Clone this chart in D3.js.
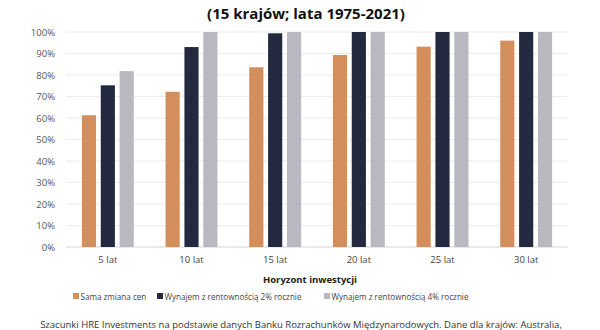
<!DOCTYPE html>
<html>
<head>
<meta charset="utf-8">
<script src="https://cdn.jsdelivr.net/npm/d3@7"></script>
<style>
  body { margin: 0; background: #fff; }
  text { font-family: "Open Sans", "DejaVu Sans", sans-serif; }
</style>
</head>
<body>
<div id="viz"></div>
<script>
var categories = ['5 lat', '10 lat', '15 lat', '20 lat', '25 lat', '30 lat'];
var seriesNames = ['Sama zmiana cen', 'Wynajem z rentownością 2% rocznie', 'Wynajem z rentownością 4% rocznie'];
var priceOnly = [61.3, 72.2, 83.6, 89.3, 93.2, 96.0];
var rent2 = [75.2, 93.0, 99.4, 100, 100, 100];
var rent4 = [81.8, 100, 100, 100, 100, 100];
var yTicks = [0, 10, 20, 30, 40, 50, 60, 70, 80, 90, 100];
var colors = ['#d38e5c', '#232a3f', '#b9b7bf'];

var width = 600, height = 330;
var margin = {top: 32, right: 32, bottom: 83, left: 66};

var svg = d3.select('#viz').append('svg')
    .attr('width', width)
    .attr('height', height);

var x0 = d3.scaleBand()
    .domain(categories)
    .range([margin.left, width - margin.right])
    .paddingInner(0.38)
    .paddingOuter(0.19);

var x1 = d3.scaleBand()
    .domain([0, 1, 2])
    .range([0, x0.bandwidth()])
    .paddingInner(0.25);

var y = d3.scaleLinear()
    .domain([0, 100])
    .range([height - margin.bottom, margin.top]);

// gridlines
svg.append('g')
    .selectAll('line').data(yTicks)
    .enter().append('line')
    .attr('x1', margin.left)
    .attr('x2', width - margin.right)
    .attr('y1', function(d) { return y(d); })
    .attr('y2', function(d) { return y(d); })
    .style('stroke', function(d) { return d === 0 ? '#d4d4d4' : '#ececec'; })
    .style('stroke-width', 1);

// y axis labels
var yAxis = d3.axisLeft(y)
    .tickValues(yTicks)
    .tickSize(0)
    .tickPadding(11)
    .tickFormat(function(d) { return d + '%'; });

svg.append('g')
    .attr('transform', 'translate(' + margin.left + ',0)')
    .call(yAxis)
    .call(function(g) { g.select('.domain').remove(); })
    .selectAll('text')
    .style('font-size', '9.5px')
    .style('fill', '#555')
    .style('font-family', '"Open Sans", sans-serif');

// bars
var table = categories.map(function(c, i) {
    return {cat: c, values: [priceOnly[i], rent2[i], rent4[i]]};
});

var groups = svg.append('g')
    .selectAll('g').data(table)
    .enter().append('g')
    .attr('transform', function(d) { return 'translate(' + x0(d.cat) + ',0)'; });

groups.selectAll('rect')
    .data(function(d) { return d.values; })
    .enter().append('rect')
    .attr('x', function(d, i) { return x1(i); })
    .attr('width', x1.bandwidth())
    .attr('y', function(d) { return y(d); })
    .attr('height', function(d) { return y(0) - y(d); })
    .style('fill', function(d, i) { return colors[i]; });

// x axis labels
var xAxis = d3.axisBottom(x0).tickSize(0).tickPadding(9);
svg.append('g')
    .attr('transform', 'translate(0,' + y(0) + ')')
    .call(xAxis)
    .call(function(g) { g.select('.domain').remove(); })
    .selectAll('text')
    .style('font-size', '9.5px')
    .style('fill', '#444')
    .style('font-family', '"Open Sans", sans-serif');

// title
svg.append('text')
    .attr('x', 306)
    .attr('y', 19)
    .attr('text-anchor', 'middle')
    .style('font-size', '15px')
    .style('font-weight', 'bold')
    .style('fill', '#111')
    .text('(15 krajów; lata 1975-2021)');

// axis title
svg.append('text')
    .attr('x', 310)
    .attr('y', 283)
    .attr('text-anchor', 'middle')
    .style('font-size', '9.5px')
    .style('font-weight', 'bold')
    .style('fill', '#222')
    .text('Horyzont inwestycji');

// legend
var legendX = [73, 157, 324];
var legend = svg.append('g')
    .selectAll('g').data(seriesNames)
    .enter().append('g')
    .attr('transform', function(d, i) { return 'translate(' + legendX[i] + ',298)'; });

legend.append('rect')
    .attr('x', 0)
    .attr('y', -5)
    .attr('width', 6)
    .attr('height', 6)
    .style('fill', function(d, i) { return colors[i]; });

legend.append('text')
    .attr('x', 7.5)
    .attr('y', 1.5)
    .style('font-size', '8.1px')
    .style('fill', '#444')
    .text(function(d) { return d; });

// source note
svg.append('text')
    .attr('x', 301)
    .attr('y', 328)
    .attr('text-anchor', 'middle')
    .style('font-size', '9.5px')
    .style('fill', '#333')
    .text('Szacunki HRE Investments na podstawie danych Banku Rozrachunków Międzynarodowych. Dane dla krajów: Australia,');
</script>
</body>
</html>
